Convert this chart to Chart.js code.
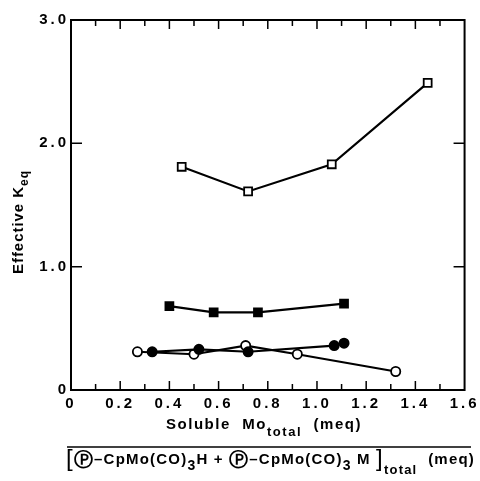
<!DOCTYPE html>
<html>
<head>
<meta charset="utf-8">
<script src="https://cdn.jsdelivr.net/npm/chart.js@4.4.1/dist/chart.umd.min.js"></script>
<style>
html,body{margin:0;padding:0;background:#fff;}
#wrap{width:480px;height:481px;position:relative;}
</style>
</head>
<body>
<div id="wrap"><canvas id="c" width="480" height="481"></canvas></div>
<script>
// ---- data ----
const openSquareX = [0.45, 0.72, 1.06, 1.45];
const openSquareY = [1.81, 1.61, 1.83, 2.49];
const filledSquareX = [0.40, 0.58, 0.76, 1.11];
const filledSquareY = [0.68, 0.63, 0.63, 0.70];
const filledCircleX = [0.33, 0.52, 0.72, 1.07, 1.11];
const filledCircleY = [0.31, 0.33, 0.31, 0.36, 0.38];
const openCircleX = [0.27, 0.50, 0.71, 0.92, 1.32];
const openCircleY = [0.31, 0.29, 0.36, 0.29, 0.15];

const xTickValues = [0, 0.2, 0.4, 0.6, 0.8, 1.0, 1.2, 1.4, 1.6];
const xTickLabels = ["0", "0.2", "0.4", "0.6", "0.8", "1.0", "1.2", "1.4", "1.6"];
const xMinorTicks = [0.1, 0.2, 0.3, 0.4, 0.5, 0.6, 0.7, 0.8, 0.9, 1.0, 1.1, 1.2, 1.3, 1.4, 1.5];
const yTickValues = [0, 1, 2, 3];
const yTickLabels = ["0", "1.0", "2.0", "3.0"];
const yInnerTicks = [1, 2];

const yTitle = "Effective K";
const yTitleSub = "eq";

const FONT = "'Liberation Sans', Arial, sans-serif";
const PFONT = "'DejaVu Sans', sans-serif";

function pts(xs, ys) { return xs.map((x, i) => ({x: x, y: ys[i]})); }

function ds(xs, ys, style, fill) {
  return {
    data: pts(xs, ys),
    showLine: true,
    borderColor: '#000',
    borderWidth: 2.2,
    pointStyle: style,
    pointRadius: style === 'rect' ? 5.6 : 4.6,
    pointBorderWidth: 1.8,
    pointBackgroundColor: fill,
    pointBorderColor: '#000',
    tension: 0
  };
}

function fontStr(s) {
  return (s.normal ? "" : "bold ") + s.s + "px " + (s.font || FONT);
}

// draws text pieces starting at 'left' on 'base' line, spread to 'target' width
function drawSegments(ctx, segs, left, base, target) {
  ctx.save();
  ctx.textAlign = 'left';
  ctx.textBaseline = 'alphabetic';
  ctx.letterSpacing = '0px';
  let natural = 0, n = 0;
  segs.forEach(s => {
    ctx.font = fontStr(s);
    s.w = ctx.measureText(s.t).width;
    natural += s.w;
    n += [...s.t].length;
  });
  const sp = Math.max(0, (target - natural) / n);
  let x = left;
  segs.forEach(s => {
    ctx.font = fontStr(s);
    [...s.t].forEach(ch => {
      ctx.fillText(ch, x, base + (s.dy || 0));
      x += ctx.measureText(ch).width + sp;
    });
  });
  ctx.restore();
}

const spacingPlugin = {
  id: 'spacing',
  beforeDraw(chart) { chart.ctx.letterSpacing = '3px'; },
  beforeDatasetsDraw(chart) { chart.ctx.letterSpacing = '0px'; }
};

const framePlugin = {
  id: 'frame',
  afterDraw(chart) {
    const ctx = chart.ctx;
    const a = chart.chartArea;
    const xs = chart.scales.x, ys = chart.scales.y;
    ctx.save();
    ctx.letterSpacing = '0px';
    ctx.strokeStyle = '#000';
    ctx.lineWidth = 2;
    ctx.strokeRect(a.left, a.top, a.right - a.left, a.bottom - a.top);
    ctx.lineWidth = 1.5;
    ctx.beginPath();
    xMinorTicks.forEach((v, i) => {
      const px = xs.getPixelForValue(v);
      const len = (i % 2 === 1) ? 9 : 6;
      ctx.moveTo(px, a.bottom); ctx.lineTo(px, a.bottom - len);
      ctx.moveTo(px, a.top); ctx.lineTo(px, a.top + len);
    });
    yInnerTicks.forEach(v => {
      const py = ys.getPixelForValue(v);
      ctx.moveTo(a.left, py); ctx.lineTo(a.left + 11, py);
      ctx.moveTo(a.right, py); ctx.lineTo(a.right - 11, py);
    });
    ctx.stroke();

    ctx.fillStyle = '#000';
    // y title (rotated)
    ctx.save();
    ctx.translate(23, 274);
    ctx.rotate(-Math.PI / 2);
    drawSegments(ctx, [
      {t: yTitle, s: 15},
      {t: yTitleSub, s: 12, dy: 5}
    ], 0, 0, 104);
    ctx.restore();

    // x title line 1
    drawSegments(ctx, [
      {t: "Soluble  Mo", s: 15},
      {t: "total", s: 13, dy: 7},
      {t: "  (meq)", s: 15}
    ], 166, 429, 196);
    // fraction line
    ctx.lineWidth = 1.5;
    ctx.beginPath();
    ctx.moveTo(67, 447); ctx.lineTo(471, 447);
    ctx.stroke();
    // x title line 2
    drawSegments(ctx, [
      {t: "[", s: 24, dy: 2, normal: true},
      {t: "\u24C5", s: 19, dy: 2, font: PFONT},
      {t: "\u2013CpMo(CO)", s: 15},
      {t: "3", s: 14, dy: 6},
      {t: "H + ", s: 15},
      {t: "\u24C5", s: 19, dy: 2, font: PFONT},
      {t: "\u2013CpMo(CO)", s: 15},
      {t: "3", s: 14, dy: 6},
      {t: " M ", s: 15},
      {t: "]", s: 24, dy: 2, normal: true},
      {t: "total", s: 13, dy: 10},
      {t: "  (meq)", s: 15}
    ], 66, 464, 409);
    ctx.restore();
  }
};

new Chart(document.getElementById('c'), {
  type: 'scatter',
  data: {
    datasets: [
      ds(openSquareX, openSquareY, 'rect', '#fff'),
      ds(filledSquareX, filledSquareY, 'rect', '#000'),
      ds(filledCircleX, filledCircleY, 'circle', '#000'),
      ds(openCircleX, openCircleY, 'circle', '#fff')
    ]
  },
  options: {
    responsive: false,
    animation: false,
    devicePixelRatio: 1,
    layout: {padding: {top: 20, right: 12, left: 0, bottom: 0}},
    plugins: {legend: {display: false}, tooltip: {enabled: false}},
    scales: {
      x: {
        type: 'linear', min: 0, max: 1.6,
        grid: {display: false, drawTicks: false, tickLength: 0},
        border: {display: false},
        afterBuildTicks: s => { s.ticks = xTickValues.map(v => ({value: v})); },
        afterFit: s => { s.height = 91; },
        ticks: {
          color: '#000', padding: 5, maxRotation: 0, autoSkip: false,
          font: {size: 15, family: FONT, weight: 'bold'},
          callback: (v, i) => xTickLabels[i]
        }
      },
      y: {
        type: 'linear', min: 0, max: 3,
        grid: {display: false, drawTicks: false, tickLength: 0},
        border: {display: false},
        afterBuildTicks: s => { s.ticks = yTickValues.map(v => ({value: v})); },
        afterFit: s => { s.width = 71; },
        ticks: {
          color: '#000', padding: 2,
          font: {size: 15, family: FONT, weight: 'bold'},
          callback: (v, i) => yTickLabels[i]
        }
      }
    }
  },
  plugins: [spacingPlugin, framePlugin]
});
</script>
</body>
</html>
